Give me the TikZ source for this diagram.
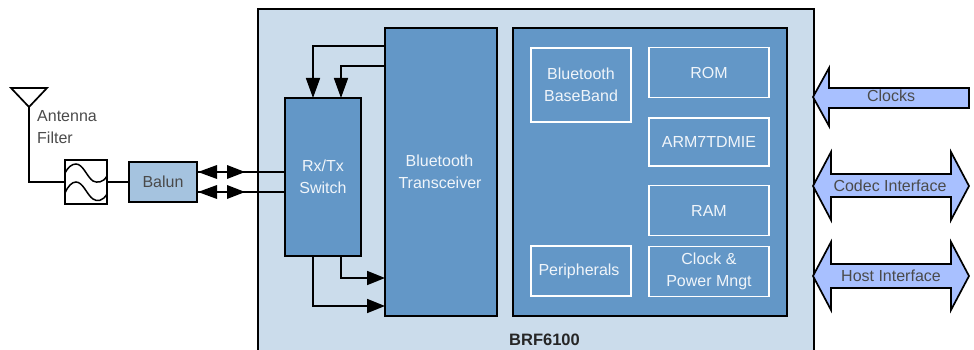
\documentclass[tikz,border=0pt]{standalone}
\usepackage{fontspec}
\setmainfont{Liberation Sans}
\usetikzlibrary{arrows.meta,calc}
\definecolor{chipbg}{HTML}{CBDCEB}
\definecolor{blockblue}{HTML}{6397C7}
\definecolor{balunblue}{HTML}{A5C3DF}
\definecolor{arrowblue}{HTML}{A8C0FF}
\definecolor{labelgray}{HTML}{4A4A4A}
\definecolor{softwhite}{HTML}{F0F5FA}
\tikzset{
  x=1pt,y=-1pt,
  line/.style={draw=black,line width=1.7pt},
  box/.style={line,inner sep=0pt,outer sep=0pt,align=center,font=\fontsize{16}{22.5}\selectfont,text=softwhite},
  blockbox/.style={box,fill=blockblue},
  whitebox/.style={box,draw=white,fill=blockblue},
  conn/.style={line width=1.7pt,-{Triangle[length=20pt,width=14pt]}},
  connb/.style={line width=1.7pt,-{Triangle[length=18pt,width=14pt]}},
  wire/.style={line width=1.7pt},
  fatarrow/.style={line,fill=arrowblue,line join=miter},
  biglabel/.style={inner sep=0pt,text=labelgray,font=\fontsize{16}{22.5}\selectfont,align=left},
}
\begin{document}
\begin{tikzpicture}
\useasboundingbox (0,0) rectangle (974,350);
\begin{scope}
\clip (0,0) rectangle (974,350);
\node[draw=black,line width=2pt,fill=chipbg,inner sep=0pt,minimum width=556pt,minimum height=360pt,anchor=north west] (chip) at (257,8.5) {};
\end{scope}
\node[inner sep=0pt,font=\fontsize{16.5}{18}\selectfont\bfseries,text=black!85] (brf) at (544.5,340) {BRF6100};

\node[blockbox,minimum width=76pt,minimum height=158pt] (sw) at (323,177) {Rx/Tx\\Switch};
\node[blockbox,minimum width=112pt,minimum height=288pt] (tr) at (441,172) {\hspace*{-3pt}Bluetooth\\\hspace*{-2pt}Transceiver};
\node[blockbox,minimum width=274pt,minimum height=288pt] (cpu) at (650,172) {};
\node[whitebox,minimum width=100pt,minimum height=74pt] (bb) at (581,85) {Bluetooth\\BaseBand};
\node[whitebox,minimum width=120pt,minimum height=50pt] (rom) at (709,72.5) {ROM};
\node[whitebox,minimum width=120pt,minimum height=48pt] (arm) at (709,142) {ARM7TDMIE};
\node[whitebox,minimum width=120pt,minimum height=50pt] (ram) at (709,210.5) {RAM};
\node[whitebox,minimum width=120pt,minimum height=50pt] (clk) at (709,271.5) {Clock \&\\Power Mngt};
\node[whitebox,minimum width=100pt,minimum height=50pt] (per) at (581,271) {\hspace*{-4pt}Peripherals};

% transceiver / switch connectors
\coordinate (t1) at (tr.west |- 0,46);
\coordinate (t2) at (tr.west |- 0,66);
\coordinate (t3) at (tr.west |- 0,278);
\coordinate (t4) at (tr.west |- 0,306);
\coordinate (s1) at (313,0 |- sw.north);
\coordinate (s2) at (341,0 |- sw.north);
\coordinate (s3) at (341,0 |- sw.south);
\coordinate (s4) at (313,0 |- sw.south);
\draw[conn] (t1) -| (s1);
\draw[conn] (t2) -| (s2);
\draw[connb] (s3) |- (t3);
\draw[connb] (s4) |- (t4);

% left chain
\node[line,fill=balunblue,inner sep=0pt,outer sep=0pt,minimum width=68pt,minimum height=40pt,text=labelgray,font=\fontsize{16}{18}\selectfont] (balun) at (163,182) {Balun};
\node[line,fill=white,inner sep=0pt,outer sep=0pt,minimum width=42pt,minimum height=44pt] (filt) at (86,182) {};
\draw[line width=1.5pt] (65,173) .. controls (68,167) and (72,164) .. (76,164) .. controls (83,164) and (87,177) .. (93,181) .. controls (97,183) and (103,183) .. (107,176);
\draw[line width=1.5pt] (65,193) .. controls (68,186) and (72,182) .. (76,182) .. controls (83,182) and (87,195) .. (93,199) .. controls (97,202) and (103,201) .. (107,194);
\draw[wire] (filt.east) -- (balun.west);
\coordinate (apex) at (29,107);
\draw[line,fill=white,line join=miter] (11,88) -- (47,88) -- (apex) -- cycle;
\draw[wire] (apex) |- (filt.west);
\node[biglabel,anchor=north west] (antlabel) at (37,110) {Antenna\\Filter};

\coordinate (b1) at (sw.west |- 0,172);
\coordinate (b2) at (sw.west |- 0,192);
\coordinate (b1l) at (balun.east |- 0,172);
\coordinate (b2l) at (balun.east |- 0,192);
\draw[wire] (b1) -- (b1l);
\draw[wire] (b2) -- (b2l);
\foreach \yy in {172,192}{
  \fill[black] (198,\yy) -- (217,{\yy-7}) -- (217,{\yy+7}) -- cycle;
  \fill[black] (245,\yy) -- (227,{\yy-7}) -- (227,{\yy+7}) -- cycle;
}

% block arrows
\draw[fatarrow] (813,97) -- (829,68) -- (829,88) -- (969,88) -- (969,108) -- (829,108) -- (829,126) -- cycle;
\node[biglabel] (clocks) at (891,96) {Clocks};
\draw[fatarrow] (813,186) -- (831,152) -- (831,174) -- (951,174) -- (951,152) -- (969,186) -- (951,220) -- (951,197) -- (831,197) -- (831,220) -- cycle;
\node[biglabel] (codec) at (890,186) {Codec Interface};
\draw[fatarrow] (813,276) -- (831,242) -- (831,264) -- (951,264) -- (951,242) -- (969,276) -- (951,310) -- (951,288) -- (831,288) -- (831,310) -- cycle;
\node[biglabel] (host) at (891,276) {Host Interface};
\end{tikzpicture}
\end{document}
